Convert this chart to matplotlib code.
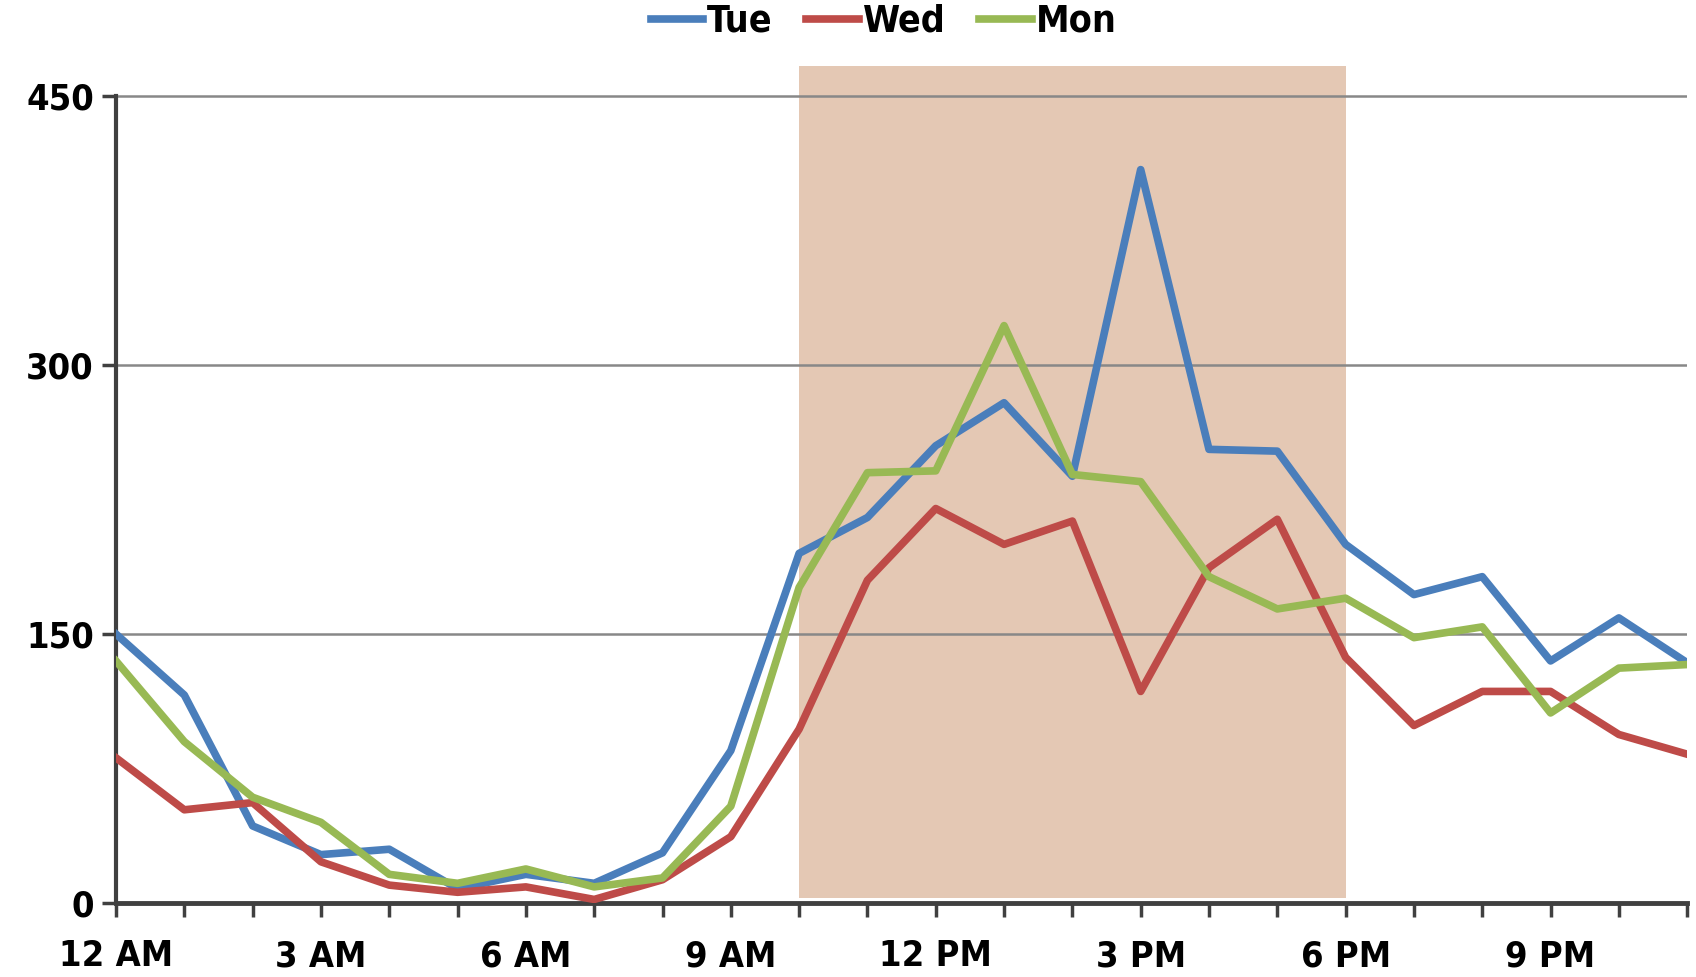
import matplotlib
matplotlib.use('Agg')
import matplotlib.pyplot as plt

hours = list(range(24))
tick_labels = ['12 AM', '', '', '3 AM', '', '', '6 AM', '', '', '9 AM', '', '',
               '12 PM', '', '', '3 PM', '', '', '6 PM', '', '', '9 PM', '', '']

tue = [150, 116, 43, 27, 30, 8, 16, 11, 28, 85, 195, 215, 255, 279, 238, 409,
       253, 252, 200, 172, 182, 135, 159, 134]
wed = [81, 52, 56, 23, 10, 6, 9, 2, 13, 37, 97, 180, 220, 200, 213, 118,
       187, 214, 137, 99, 118, 118, 94, 83]
mon = [135, 90, 59, 45, 16, 11, 19, 9, 14, 54, 176, 240, 241, 322, 239, 235,
       182, 164, 170, 148, 154, 106, 131, 133]

band_start, band_end, band_top = 10, 18, 467

plt.rcParams['font.family'] = ['DejaVu Sans']
plt.rcParams['font.stretch'] = 'condensed'
plt.rcParams['font.weight'] = 'bold'

fig = plt.figure(figsize=(16.96, 9.77), dpi=100)
ax = fig.add_axes([0.0684, 0.0757, 0.9264, 0.859])

ax.fill_between([band_start, band_end], 3, band_top, color='#e4c8b4', zorder=0, lw=0)

for y in [150, 300, 450]:
    ax.axhline(y, color='#888888', lw=1.8, zorder=1)

ax.plot(hours, tue, color='#4a7ebb', lw=5.5, label='Tue', zorder=3)
ax.plot(hours, wed, color='#be4b48', lw=5.5, label='Wed', zorder=3)
ax.plot(hours, mon, color='#98b954', lw=5.5, label='Mon', zorder=3)

ax.set_xlim(0, 23)
ax.set_ylim(0, 468)
ax.set_xticks(hours)
ax.set_xticklabels(tick_labels, fontsize=26, fontweight='bold')
ax.set_yticks([0, 150, 300, 450])
ax.set_yticklabels(['0', '150', '300', '450'], fontsize=26, fontweight='bold')

for s in ['top', 'right']:
    ax.spines[s].set_visible(False)
ax.spines['left'].set_bounds(0, 450)
ax.spines['left'].set_color('#404040')
ax.spines['bottom'].set_color('#404040')
ax.spines['left'].set_linewidth(3)
ax.spines['bottom'].set_linewidth(3.5)
ax.tick_params(axis='x', direction='out', length=10, width=2.5, color='#404040', pad=16)
ax.tick_params(axis='y', direction='out', length=10, width=2.5, color='#404040', pad=6)

handles, labels = ax.get_legend_handles_labels()
fig.legend(handles, labels, loc='upper center', bbox_to_anchor=(0.521, 0.998), ncol=3,
           frameon=False, fontsize=27, handlelength=1.4, handletextpad=0.1,
           columnspacing=0.9, borderaxespad=0, borderpad=0.05)

fig.savefig('out.png', dpi=100)
